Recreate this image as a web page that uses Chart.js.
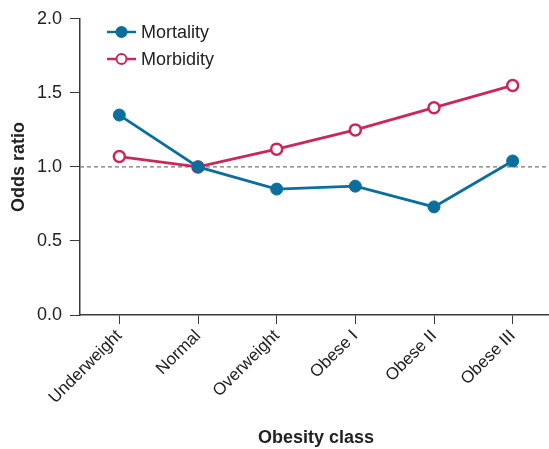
<!DOCTYPE html>
<html>
<head>
<meta charset="utf-8">
<script src="https://cdn.jsdelivr.net/npm/chart.js@4"></script>
<style>
  html, body { margin: 0; padding: 0; background: #fff; }
  #oddsChart { display: block; }
</style>
</head>
<body>
<canvas id="oddsChart" width="549" height="449"></canvas>
<script>
// odds ratio per obesity class, reference class = Normal
const classes = ['Underweight', 'Normal', 'Overweight', 'Obese I', 'Obese II', 'Obese III'];
const mortality = [1.35, 1.0, 0.85, 0.87, 0.73, 1.04];
const morbidity = [1.07, 1.0, 1.12, 1.25, 1.40, 1.55];
const yTicks = [0, 0.5, 1.0, 1.5, 2.0];

const BLUE = '#0b6e9c';
const RED = '#c8285c';
const AXIS = '#3a3a3a';
const FONT = 'Arial, "Liberation Sans", sans-serif';

// stretch the category axis so it runs off the right edge of the canvas
const widenX = {
    id: 'widenX',
    afterLayout(chart) {
        const x = chart.scales.x;
        const right = chart.width + 3;
        x.right = right;
        x.width = right - x.left;
        chart.chartArea.right = right;
        chart.chartArea.width = right - chart.chartArea.left;
        x.configure();
    }
};

// dashed reference line at odds ratio 1
const refLine = {
    id: 'refLine',
    beforeDatasetsDraw(chart) {
        const ctx = chart.ctx;
        const y = chart.scales.y.getPixelForValue(1);
        ctx.save();
        ctx.strokeStyle = '#777';
        ctx.lineWidth = 1.2;
        ctx.setLineDash([4, 3]);
        ctx.beginPath();
        ctx.moveTo(chart.chartArea.left, y);
        ctx.lineTo(chart.width, y);
        ctx.stroke();
        ctx.restore();
    }
};

// small legend inside the plot, top left
const insideLegend = {
    id: 'insideLegend',
    afterDraw(chart) {
        const ctx = chart.ctx;
        ctx.save();
        ctx.font = '18px ' + FONT;
        ctx.textBaseline = 'middle';
        chart.data.datasets.forEach((ds, i) => {
            const y = 32 + i * 27;
            const x0 = 107, x1 = 136;
            ctx.strokeStyle = ds.borderColor;
            ctx.lineWidth = 2.5;
            ctx.beginPath();
            ctx.moveTo(x0, y);
            ctx.lineTo(x1, y);
            ctx.stroke();
            ctx.beginPath();
            ctx.arc((x0 + x1) / 2, y, 5, 0, Math.PI * 2);
            ctx.fillStyle = ds.pointBackgroundColor;
            ctx.fill();
            ctx.lineWidth = 2;
            ctx.stroke();
            ctx.fillStyle = '#222';
            ctx.fillText(ds.label, 141, y + 1);
        });
        ctx.restore();
    }
};

new Chart(document.getElementById('oddsChart').getContext('2d'), {
    type: 'line',
    data: {
        labels: classes,
        datasets: [
            {
                label: 'Mortality', data: mortality,
                borderColor: BLUE, backgroundColor: BLUE,
                pointBackgroundColor: BLUE, pointBorderColor: BLUE,
                borderWidth: 2.8, pointRadius: 6, pointBorderWidth: 1, tension: 0
            },
            {
                label: 'Morbidity', data: morbidity,
                borderColor: RED, backgroundColor: '#fff',
                pointBackgroundColor: '#fff', pointBorderColor: RED,
                borderWidth: 2.8, pointRadius: 5.5, pointBorderWidth: 2.5, tension: 0
            }
        ]
    },
    options: {
        responsive: false,
        animation: false,
        layout: { padding: { top: 16, right: 0, left: 0, bottom: 0 } },
        plugins: {
            legend: { display: false },
            tooltip: { enabled: false }
        },
        scales: {
            x: {
                offset: true,
                grid: { display: true, drawOnChartArea: false, drawTicks: true, tickLength: 9, color: AXIS, offset: false },
                border: { display: true, color: AXIS, width: 1.5 },
                ticks: { color: '#222', font: { size: 17, family: FONT }, maxRotation: 45, minRotation: 45, padding: 2 },
                title: { display: true, text: 'Obesity class', color: '#222', font: { size: 18, weight: 'bold', family: FONT }, padding: { top: 10, bottom: 0 } },
                afterFit(scale) { scale.height = 134; }
            },
            y: {
                min: 0, max: 2,
                afterBuildTicks(scale) { scale.ticks = yTicks.map(v => ({ value: v })); },
                grid: { display: true, drawOnChartArea: false, drawTicks: true, tickLength: 10, color: AXIS },
                border: { display: true, color: AXIS, width: 1.5 },
                ticks: { color: '#222', font: { size: 18, family: FONT }, padding: 8, callback: v => v.toFixed(1) },
                title: { display: true, text: 'Odds ratio', color: '#222', font: { size: 18, weight: 'bold', family: FONT }, padding: { top: 8, bottom: 4 } },
                afterFit(scale) { scale.width = 80; }
            }
        }
    },
    plugins: [widenX, refLine, insideLegend]
});
</script>
</body>
</html>
